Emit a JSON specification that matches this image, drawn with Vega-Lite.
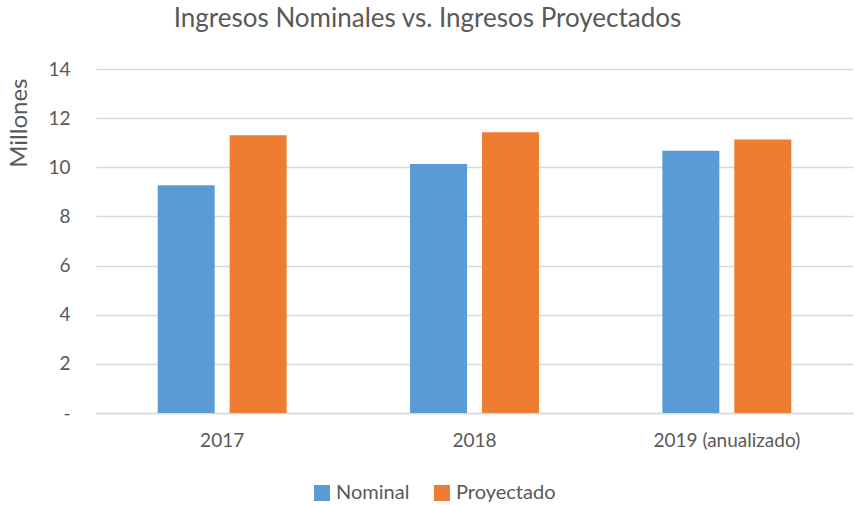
{
  "$schema": "https://vega.github.io/schema/vega-lite/v6.json",
  "autosize": {"type": "none"},
  "width": 757,
  "height": 344,
  "padding": {"left": 96, "top": 69, "right": 2, "bottom": 92},
  "background": "white",
  "title": {
    "text": "Ingresos Nominales vs. Ingresos Proyectados",
    "font": "Lato",
    "fontSize": 26,
    "fontWeight": "normal",
    "color": "#595959",
    "anchor": "middle",
    "dx": -47,
    "offset": 28
  },
  "data": {
    "values": [
      {"year": "2017", "serie": "Nominal", "value": 9.27},
      {"year": "2017", "serie": "Proyectado", "value": 11.3},
      {"year": "2018", "serie": "Nominal", "value": 10.13},
      {"year": "2018", "serie": "Proyectado", "value": 11.43},
      {"year": "2019 (anualizado)", "serie": "Nominal", "value": 10.67},
      {"year": "2019 (anualizado)", "serie": "Proyectado", "value": 11.13}
    ]
  },
  "mark": {"type": "bar"},
  "encoding": {
    "x": {
      "field": "year",
      "type": "nominal",
      "sort": null,
      "scale": {"paddingInner": 0.489, "paddingOuter": 0.2445},
      "axis": {
        "title": null,
        "labelAngle": 0,
        "labelFont": "Lato",
        "labelFontSize": 19,
        "labelColor": "#595959",
        "labelPadding": 18,
        "ticks": false,
        "domainColor": "#D9D9D9",
        "domainWidth": 1.5
      }
    },
    "xOffset": {
      "field": "serie",
      "type": "nominal",
      "scale": {"paddingInner": 0.208, "paddingOuter": 0}
    },
    "y": {
      "field": "value",
      "type": "quantitative",
      "scale": {"domain": [0, 14], "nice": false},
      "axis": {
        "title": "Millones",
        "titleFont": "Lato",
        "titleFontSize": 24,
        "titleFontWeight": "normal",
        "titleColor": "#595959",
        "titlePadding": 16,
        "titleAnchor": "end",
        "titleAlign": "right",
        "titleY": 9,
        "values": [0, 2, 4, 6, 8, 10, 12, 14],
        "labelExpr": "datum.value == 0 ? '-' : datum.label",
        "labelFont": "Lato",
        "labelFontSize": 19,
        "labelColor": "#595959",
        "labelPadding": 26,
        "ticks": false,
        "domain": false,
        "gridColor": "#D9D9D9",
        "gridWidth": 1.5
      }
    },
    "color": {
      "field": "serie",
      "type": "nominal",
      "scale": {"domain": ["Nominal", "Proyectado"], "range": ["#5B9BD5", "#ED7D31"]},
      "legend": {
        "title": null,
        "orient": "none",
        "direction": "horizontal",
        "legendX": 216,
        "legendY": 414,
        "symbolType": "square",
        "symbolSize": 256,
        "symbolStrokeWidth": 0,
        "labelFont": "Lato",
        "labelFontSize": 20,
        "labelColor": "#595959",
        "labelOffset": 4,
        "columnPadding": 22
      }
    }
  },
  "config": {"view": {"stroke": null}}
}
